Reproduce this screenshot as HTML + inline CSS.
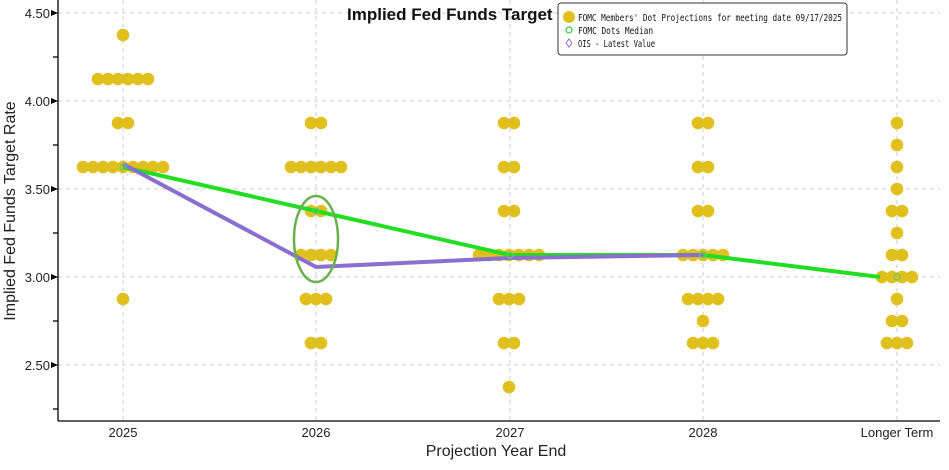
<!DOCTYPE html>
<html><head><style>body{margin:0;background:#fff}svg{display:block}</style></head><body>
<svg width="949" height="470" xmlns="http://www.w3.org/2000/svg" font-family="Liberation Sans, sans-serif">
<g stroke="#ccc" stroke-dasharray="4,4" stroke-width="1">
<line x1="58" y1="13" x2="940" y2="13"/><line x1="58" y1="101" x2="940" y2="101"/><line x1="58" y1="189" x2="940" y2="189"/><line x1="58" y1="277" x2="940" y2="277"/><line x1="58" y1="365" x2="940" y2="365"/>
<line x1="123" y1="0" x2="123" y2="421"/><line x1="316" y1="0" x2="316" y2="421"/><line x1="510" y1="0" x2="510" y2="421"/><line x1="703" y1="0" x2="703" y2="421"/><line x1="897" y1="0" x2="897" y2="421"/>
</g>
<g stroke="#000" stroke-width="1.3">
<line x1="58" y1="0" x2="58" y2="421"/><line x1="58" y1="421" x2="940" y2="421"/>
<line x1="53" y1="57" x2="58" y2="57"/><line x1="53" y1="145" x2="58" y2="145"/><line x1="53" y1="233" x2="58" y2="233"/><line x1="53" y1="321" x2="58" y2="321"/><line x1="53" y1="409" x2="58" y2="409"/>
</g>
<g fill="#000"><polygon points="58,13 51,10 51,16"/><polygon points="58,101 51,98 51,104"/><polygon points="58,189 51,186 51,192"/><polygon points="58,277 51,274 51,280"/><polygon points="58,365 51,362 51,368"/></g>
<g font-size="13" text-anchor="end" fill="#222"><text x="50" y="18">4.50</text><text x="50" y="106">4.00</text><text x="50" y="194">3.50</text><text x="50" y="282">3.00</text><text x="50" y="370">2.50</text></g>
<g font-size="13" text-anchor="middle" fill="#222"><text x="123" y="437">2025</text><text x="316" y="437">2026</text><text x="510" y="437">2027</text><text x="703" y="437">2028</text><text x="897" y="437">Longer Term</text></g>
<text x="496" y="456" font-size="16" text-anchor="middle" fill="#222">Projection Year End</text>
<text transform="translate(15,211) rotate(-90)" font-size="16" text-anchor="middle" fill="#222">Implied Fed Funds Target Rate</text>
<g fill="#e0c01c">
<circle cx="123" cy="35" r="6.3"/>
<circle cx="98" cy="79" r="6.3"/><circle cx="108" cy="79" r="6.3"/><circle cx="118" cy="79" r="6.3"/><circle cx="128" cy="79" r="6.3"/><circle cx="138" cy="79" r="6.3"/><circle cx="148" cy="79" r="6.3"/>
<circle cx="118" cy="123" r="6.3"/><circle cx="128" cy="123" r="6.3"/>
<circle cx="83" cy="167" r="6.3"/><circle cx="93" cy="167" r="6.3"/><circle cx="103" cy="167" r="6.3"/><circle cx="113" cy="167" r="6.3"/><circle cx="123" cy="167" r="6.3"/><circle cx="133" cy="167" r="6.3"/><circle cx="143" cy="167" r="6.3"/><circle cx="153" cy="167" r="6.3"/><circle cx="163" cy="167" r="6.3"/>
<circle cx="123" cy="299" r="6.3"/>
<circle cx="311" cy="123" r="6.3"/><circle cx="321" cy="123" r="6.3"/>
<circle cx="291" cy="167" r="6.3"/><circle cx="301" cy="167" r="6.3"/><circle cx="311" cy="167" r="6.3"/><circle cx="321" cy="167" r="6.3"/><circle cx="331" cy="167" r="6.3"/><circle cx="341" cy="167" r="6.3"/>
<circle cx="311" cy="211" r="6.3"/><circle cx="321" cy="211" r="6.3"/>
<circle cx="301" cy="255" r="6.3"/><circle cx="311" cy="255" r="6.3"/><circle cx="321" cy="255" r="6.3"/><circle cx="331" cy="255" r="6.3"/>
<circle cx="306" cy="299" r="6.3"/><circle cx="316" cy="299" r="6.3"/><circle cx="326" cy="299" r="6.3"/>
<circle cx="311" cy="343" r="6.3"/><circle cx="321" cy="343" r="6.3"/>
<circle cx="504" cy="123" r="6.3"/><circle cx="514" cy="123" r="6.3"/>
<circle cx="504" cy="167" r="6.3"/><circle cx="514" cy="167" r="6.3"/>
<circle cx="504" cy="211" r="6.3"/><circle cx="514" cy="211" r="6.3"/>
<circle cx="479" cy="255" r="6.3"/><circle cx="489" cy="255" r="6.3"/><circle cx="499" cy="255" r="6.3"/><circle cx="509" cy="255" r="6.3"/><circle cx="519" cy="255" r="6.3"/><circle cx="529" cy="255" r="6.3"/><circle cx="539" cy="255" r="6.3"/>
<circle cx="499" cy="299" r="6.3"/><circle cx="509" cy="299" r="6.3"/><circle cx="519" cy="299" r="6.3"/>
<circle cx="504" cy="343" r="6.3"/><circle cx="514" cy="343" r="6.3"/>
<circle cx="509" cy="387" r="6.3"/>
<circle cx="698" cy="123" r="6.3"/><circle cx="708" cy="123" r="6.3"/>
<circle cx="698" cy="167" r="6.3"/><circle cx="708" cy="167" r="6.3"/>
<circle cx="698" cy="211" r="6.3"/><circle cx="708" cy="211" r="6.3"/>
<circle cx="683" cy="255" r="6.3"/><circle cx="693" cy="255" r="6.3"/><circle cx="703" cy="255" r="6.3"/><circle cx="713" cy="255" r="6.3"/><circle cx="723" cy="255" r="6.3"/>
<circle cx="688" cy="299" r="6.3"/><circle cx="698" cy="299" r="6.3"/><circle cx="708" cy="299" r="6.3"/><circle cx="718" cy="299" r="6.3"/>
<circle cx="703" cy="321" r="6.3"/>
<circle cx="693" cy="343" r="6.3"/><circle cx="703" cy="343" r="6.3"/><circle cx="713" cy="343" r="6.3"/>
<circle cx="897" cy="123" r="6.3"/><circle cx="897" cy="145" r="6.3"/><circle cx="897" cy="167" r="6.3"/><circle cx="897" cy="189" r="6.3"/>
<circle cx="892" cy="211" r="6.3"/><circle cx="902" cy="211" r="6.3"/>
<circle cx="897" cy="233" r="6.3"/>
<circle cx="892" cy="255" r="6.3"/><circle cx="902" cy="255" r="6.3"/>
<circle cx="882" cy="277" r="6.3"/><circle cx="892" cy="277" r="6.3"/><circle cx="902" cy="277" r="6.3"/><circle cx="912" cy="277" r="6.3"/>
<circle cx="897" cy="299" r="6.3"/>
<circle cx="892" cy="321" r="6.3"/><circle cx="902" cy="321" r="6.3"/>
<circle cx="887" cy="343" r="6.3"/><circle cx="897" cy="343" r="6.3"/><circle cx="907" cy="343" r="6.3"/>
</g>
<polyline points="123,167 316,211 510,255 703,255 880,277" fill="none" stroke="#22dd22" stroke-width="4"/>
<polyline points="123,164 316,267 510,258 703,255" fill="none" stroke="#8a6fcf" stroke-width="4"/>
<ellipse cx="316" cy="239" rx="22" ry="43" fill="none" stroke="#6ab04c" stroke-width="2.5"/>
<g fill="none" stroke="#6c6" stroke-width="1.2"><circle cx="123" cy="167" r="3"/><circle cx="316" cy="211" r="3"/><circle cx="510" cy="255" r="3"/><circle cx="703" cy="255" r="3"/><circle cx="897" cy="277" r="3"/></g>
<text x="347" y="20" font-size="17" font-weight="bold" fill="#111">Implied Fed Funds Target</text>
<rect x="558" y="3" width="289" height="52" rx="3" fill="#fff" stroke="#333" stroke-width="1"/>
<circle cx="569" cy="17" r="6" fill="#e0c01c"/>
<circle cx="569" cy="30" r="3" fill="none" stroke="#3c3" stroke-width="1.2"/>
<polygon points="569,39 572,43 569,47 566,43" fill="none" stroke="#8a6fcf"/>
<g font-family="DejaVu Sans Mono, Liberation Mono, monospace" font-size="10" fill="#111"><text x="578" y="21" textLength="264" lengthAdjust="spacingAndGlyphs">FOMC Members' Dot Projections for meeting date 09/17/2025</text><text x="578" y="34" textLength="75" lengthAdjust="spacingAndGlyphs">FOMC Dots Median</text><text x="578" y="47" textLength="77" lengthAdjust="spacingAndGlyphs">OIS - Latest Value</text></g>
</svg>
</body></html>
